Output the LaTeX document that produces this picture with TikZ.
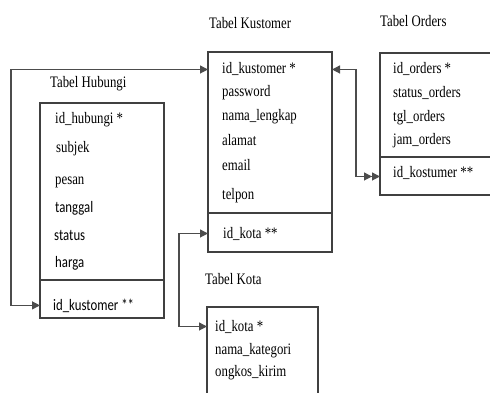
\documentclass[tikz,border=0pt]{standalone}
\usepackage{fontspec}
\setmainfont{Liberation Serif}[FakeStretch=0.8]
\newfontfamily\calibrifont{Carlito}[FakeStretch=0.8]
\usepackage{tikz}
\usetikzlibrary{arrows.meta,calc}

\tikzset{
  box/.style={draw=black!75, line width=1.2pt},
  link/.style={draw=black!70, line width=1.2pt},
  fld/.style={anchor=base west, inner sep=0pt, font=\fontsize{16}{18}\selectfont},
  sfld/.style={anchor=base west, inner sep=0pt, font=\fontsize{16}{18}\selectfont\calibrifont},
  ttl/.style={fld},
}

\begin{document}
\begin{tikzpicture}[x=1pt,y=-1pt,>={Triangle[length=8pt,width=8pt]}]
    \useasboundingbox (0,0) rectangle (490,393);
    % titles
    \node[ttl] (tKus) at (209,29) {Tabel Kustomer};
    \node[ttl] (tOrd) at (380,27) {Tabel Orders};
    \node[ttl] (tHub) at (50,88) {Tabel Hubungi};
    \node[ttl] (tKot) at (205,284) {Tabel Kota};
    % tabel kustomer
    \coordinate (kusNW) at (208,52);
    \coordinate (kusSE) at (332,252);
    \coordinate (kusDiv) at (208,213);
    \draw[box] (kusNW) rectangle (kusSE);
    \draw[box] (kusDiv) -- (kusDiv -| kusSE);
    \node[fld] (kusPK) at (222,74) {id\_kustomer *};
    \node[fld] (kusPass) at (222,97) {password};
    \node[fld] (kusNama) at (222,121) {nama\_lengkap};
    \node[fld] (kusAlamat) at (222,146) {alamat};
    \node[fld] (kusEmail) at (222,171) {email};
    \node[fld] (kusTelp) at (222,200) {telpon};
    \node[fld] (kusFK) at (223,238) {id\_kota **};
    % tabel orders
    \coordinate (ordNW) at (380,53);
    \coordinate (ordSE) at (490,195);
    \coordinate (ordDiv) at (380,157);
    \draw[box] (ordNW -| ordSE) -- (ordNW) -- (ordNW |- ordSE) -- (ordSE);
    \draw[box] (ordDiv) -- (ordDiv -| ordSE);
    \node[fld] (ordPK) at (393,74) {id\_orders *};
    \node[fld] (ordStatus) at (393,98) {status\_orders};
    \node[fld] (ordTgl) at (393,122) {tgl\_orders};
    \node[fld] (ordJam) at (393,145) {jam\_orders};
    \node[fld] (ordFK) at (393,178) {id\_kostumer **};
    \coordinate (ordIn) at ([yshift=-3pt]ordFK.west);
    % tabel hubungi
    \coordinate (hubNW) at (40,103);
    \coordinate (hubSE) at (164,318);
    \coordinate (hubDiv) at (40,280);
    \draw[box] (hubNW) rectangle (hubSE);
    \draw[box] (hubDiv) -- (hubDiv -| hubSE);
    \node[fld] (hubPK) at (55,124) {id\_hubungi *};
    \node[fld] (hubSubjek) at (56,153) {subjek};
    \node[fld] (hubPesan) at (55,184) {pesan};
    \node[sfld] (hubTgl) at (55,212) {tanggal};
    \node[sfld] (hubStatus) at (54,240) {status};
    \node[sfld] (hubHarga) at (55,267) {harga};
    \node[sfld] (hubFK) at (53,310) {id\_kustomer **};
    % tabel kota
    \coordinate (kotNW) at (207,307);
    \coordinate (kotSE) at (318,393);
    \draw[box] (kotNW |- kotSE) -- (kotNW) -- (kotNW -| kotSE) -- (kotSE);
    \node[fld] (kotPK) at (215,331) {id\_kota *};
    \node[fld] (kotNama) at (215,354) {nama\_kategori};
    \node[fld] (kotOngkos) at (215,376) {ongkos\_kirim};
    % relasi
    \coordinate (loopA) at (11,0);
    \coordinate (loopB) at (356,0);
    \coordinate (loopC) at (179,0);
    \draw[link,<->] (hubFK.west -| hubNW) -- (hubFK.west -| loopA) -- (kusPK.west -| loopA) -- (kusPK.west -| kusNW);
    \draw[link,<->>] (kusPK.west -| kusSE) -- (kusPK.west -| loopB) -- (ordIn -| loopB) -- (ordIn -| ordNW);
    \draw[link,<->] (kusFK.west -| kusNW) -- (kusFK.west -| loopC) -- (kotPK.west -| loopC) -- (kotPK.west -| kotNW);
\end{tikzpicture}
\end{document}
